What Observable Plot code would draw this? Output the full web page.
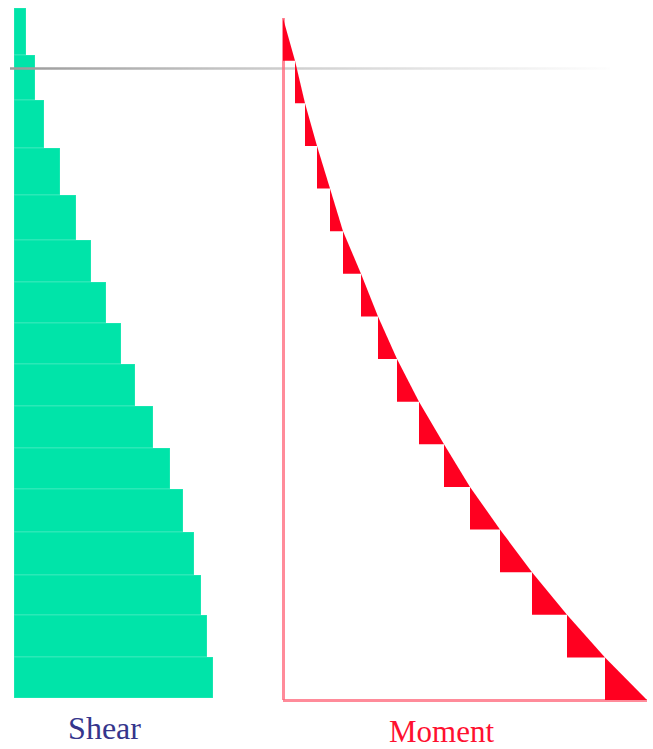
<!DOCTYPE html>
<html>
<head>
<meta charset="utf-8">
<script src="https://cdn.jsdelivr.net/npm/d3@7"></script>
<script src="https://cdn.jsdelivr.net/npm/@observablehq/plot@0.6"></script>
<style>
  html, body { margin: 0; padding: 0; background: #fff; overflow: hidden; }
  #wrap { position: relative; width: 653px; height: 749px; }
  #wrap > svg { position: absolute; left: 0; top: 0; }
</style>
</head>
<body>
<div id="wrap"></div>
<script>
// ---- Data ----
// Shear diagram: segment boundaries along the member (top -> bottom) and shear value per segment
const shearStations = [0, 47, 92, 140, 187, 232, 274, 315, 356, 398, 440, 481, 524, 567, 607, 649, 690];
const shearValues = [12, 21, 30, 46, 62, 77, 92, 107, 121, 139, 156, 169, 180, 187, 193, 199];
// Moment diagram: equal stations and moment value at each station
const momentStations = [0, 1, 2, 3, 4, 5, 6, 7, 8, 9, 10, 11, 12, 13, 14, 15, 16];
const momentValues = [0, 12, 22, 34, 47, 60, 78, 95, 114, 136, 161, 187, 217, 249, 284, 322, 364];
// Reference (datum) level, in shear-station units
const datumLevels = [60];
const panelLabels = ["Shear", "Moment"];

// ---- Build tables ----
const shearRows = shearValues.map((v, i) => ({ y1: shearStations[i], y2: shearStations[i + 1], v }));
const triRows = [];
for (let i = 0; i < momentValues.length - 1; i++) {
  triRows.push({ seg: i, y: momentStations[i], x1: momentValues[i], x2: momentValues[i] });
  triRows.push({ seg: i, y: momentStations[i + 1], x1: momentValues[i], x2: momentValues[i + 1] });
}
const nM = momentStations.length - 1;
const mMax = momentValues[momentValues.length - 1];

const W = 653, H = 749;

// ---- Shear panel ----
const shearPlot = Plot.plot({
  width: W, height: H,
  marginLeft: 10, marginRight: 43, marginTop: 0, marginBottom: 11,
  x: { axis: null, domain: [0, d3.max(shearValues)], range: [14, 213] },
  y: { axis: null, domain: [0, shearStations[shearStations.length - 1]], range: [8, 698] },
  marks: [
    Plot.rectX(shearRows, { x1: 0, x2: "v", y1: "y1", y2: "y2", fill: "#00e4a9", stroke: "#ffffff", strokeOpacity: 0.18, strokeWidth: 1 }),
    Plot.ruleY(datumLevels, { stroke: "url(#fadeGray)", strokeWidth: 2.5 }),
    Plot.text([panelLabels[0]], { frameAnchor: "bottom-left", dx: 94, textAnchor: "middle", lineAnchor: "bottom",
      fontFamily: "Liberation Serif, Times New Roman, serif", fontSize: 32, fill: "#35358c" })
  ]
});
const defs = d3.select(shearPlot).insert("defs", ":first-child");
const grad = defs.append("linearGradient").attr("id", "fadeGray")
  .attr("gradientUnits", "userSpaceOnUse").attr("x1", "1.5%").attr("x2", "95%").attr("y1", 0).attr("y2", 0);
grad.append("stop").attr("offset", "0").attr("stop-color", "#9a9a9a");
grad.append("stop").attr("offset", "0.35").attr("stop-color", "#c4c4c4");
grad.append("stop").attr("offset", "0.7").attr("stop-color", "#e6e6e6");
grad.append("stop").attr("offset", "1").attr("stop-color", "#ffffff");

// ---- Moment panel ----
const momentPlot = Plot.plot({
  width: W, height: H,
  marginLeft: 0, marginRight: 0, marginTop: 0, marginBottom: 8,
  style: { background: "transparent" },
  x: { axis: null, domain: [0, mMax], range: [283, 647] },
  y: { axis: null, domain: [0, nM], range: [18, 700] },
  marks: [
    Plot.ruleX([0], { y1: 0, y2: nM, stroke: "#ff6478", strokeOpacity: 0.75, strokeWidth: 3 }),
    Plot.ruleY([nM], { x1: 0, x2: mMax, stroke: "#ff6478", strokeOpacity: 0.75, strokeWidth: 3 }),
    Plot.areaX(triRows, { y: "y", x1: "x1", x2: "x2", z: "seg", fill: "#ff0020" }),
    Plot.text([panelLabels[1]], { frameAnchor: "bottom-left", dx: 441, textAnchor: "middle", lineAnchor: "bottom",
      fontFamily: "Liberation Serif, Times New Roman, serif", fontSize: 31, fill: "#ff1030" })
  ]
});

const wrap = document.getElementById("wrap");
wrap.appendChild(shearPlot);
wrap.appendChild(momentPlot);
</script>
</body>
</html>
